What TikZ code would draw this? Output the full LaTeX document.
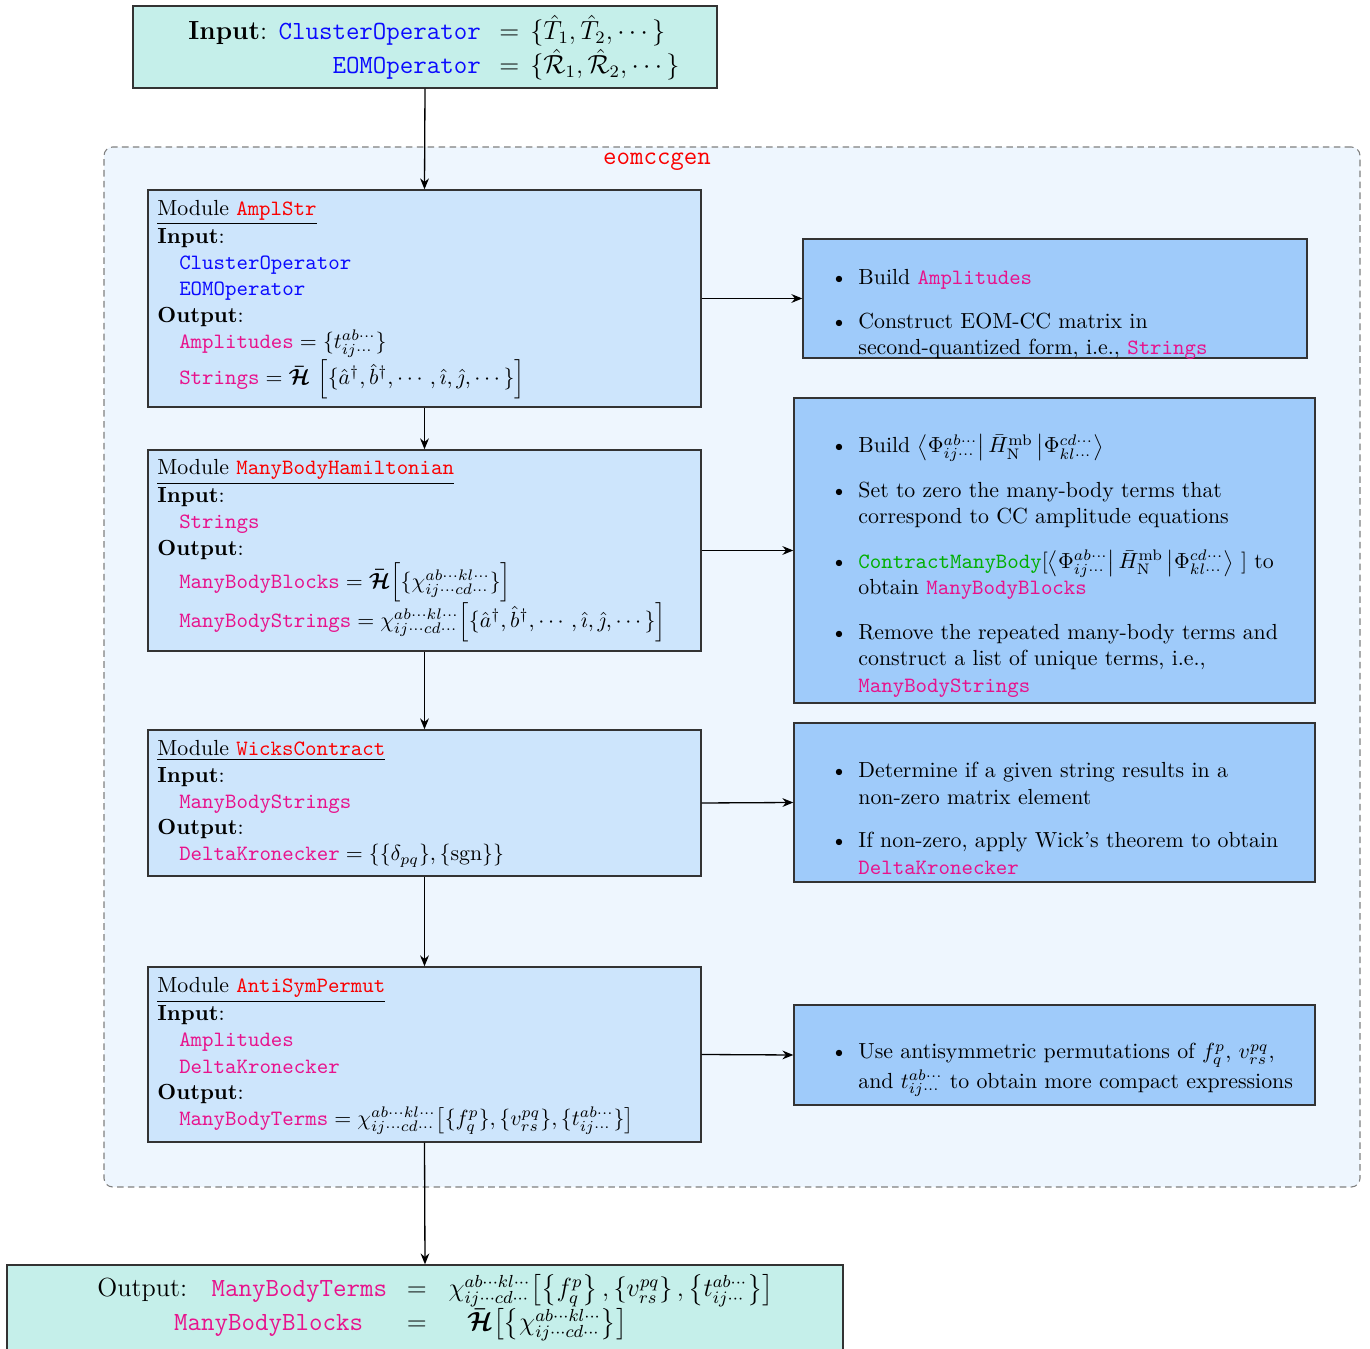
\documentclass[tikz,border=0pt]{standalone}
\usepackage{amsmath,bm}
\usetikzlibrary{fit,arrows.meta}
\definecolor{ioFill}{RGB}{197,239,234}
\definecolor{contFill}{RGB}{238,246,254}
\definecolor{modFill}{RGB}{205,229,252}
\definecolor{noteFill}{RGB}{159,203,250}
\definecolor{cBlue}{RGB}{10,10,255}
\definecolor{cMag}{RGB}{232,18,140}
\definecolor{cRed}{RGB}{250,0,0}
\definecolor{cGreen}{RGB}{0,175,0}
\definecolor{edgeGray}{RGB}{51,51,51}
\newcommand{\tblue}[1]{\texttt{\color{cBlue}#1}}
\newcommand{\tmag}[1]{\texttt{\color{cMag}#1}}
\newcommand{\tred}[1]{\texttt{\color{cRed}#1}}
\newcommand{\tgreen}[1]{\texttt{\color{cGreen}#1}}
\newcommand{\HHbar}{\bm{\bar{\mathcal{H}}}}
\newcommand{\modtitle}[1]{\underline{Module \tred{#1}}}
\newcommand{\chiup}{\chi^{ab\cdots kl\cdots}_{ij\cdots cd\cdots}}
\begin{document}
\begin{tikzpicture}[x=0.458pt,y=-0.458pt,
  boxbase/.style={draw=edgeGray, line width=0.6pt, inner sep=0pt},
  iobox/.style={boxbase, fill=ioFill},
  modbox/.style={boxbase, fill=modFill},
  notebox/.style={boxbase, fill=noteFill},
  container/.style={draw=gray, dash pattern=on 3pt off 2pt, rounded corners=4pt, fill=contFill, inner sep=0pt, line width=0.5pt},
  arr/.style={-{Stealth[length=5pt,width=4pt]}, line width=0.6pt},
  txt/.style={inner sep=0pt, anchor=base west},
]
\useasboundingbox (0,0) rectangle (1370,1349);

% container
\node[container, fit={(104,147) (1360,1187)}] (cont) {};
\node[anchor=base, inner sep=0pt, font=\large\ttfamily, text=cRed] (contlabel) at (657,165) {eomccgen};

% input box
\node[iobox, fit={(133,6) (717,88)}] (inbox) {};
\node[txt, font=\large] (intext) at (188,40) {%
  \begin{tabular}[t]{@{}r@{\hspace{8.5pt}}c@{\hspace{5pt}}l@{}}
  \textbf{Input}: \tblue{ClusterOperator} & $=$ & $\{\hat{T}_1,\hat{T}_2,\cdots\}$\\
  \tblue{EOMOperator} & $=$ & $\{\hat{\mathcal{R}}_1,\hat{\mathcal{R}}_2,\cdots\}$
  \end{tabular}};

% output box
\node[iobox, fit={(7,1265) (843,1362)}] (outbox) {};
\node[txt, font=\large] (outtext) at (97,1297) {%
  \begin{tabular}[t]{@{}r@{\hspace{9pt}}c@{\hspace{10pt}}l@{}}
  Output:\hspace{6pt} \tmag{ManyBodyTerms} & $=$ & $\chiup\!\left[\left\{f^p_q\right\},\left\{v^{pq}_{rs}\right\},\left\{t^{ab\cdots}_{ij\cdots}\right\}\right]$\\[1pt]
  \tmag{ManyBodyBlocks}\hspace{11pt} & $=$ & \hspace{8.5pt}$\HHbar\!\left[\left\{\chiup\right\}\right]$
  \end{tabular}};

% modules
\node[modbox, fit={(148,190) (701,407)}] (m1) {};
\node[txt] (m1txt) at (157,216) {%
  \begin{tabular}[t]{@{}l@{}}
  \modtitle{AmplStr}\\
  \textbf{Input}:\\
  \quad\tblue{ClusterOperator}\\
  \quad\tblue{EOMOperator}\\
  \textbf{Output}:\\
  \quad\tmag{Amplitudes}${}=\{t^{ab\cdots}_{ij\cdots}\}$\\[1.5pt]
  \quad\tmag{Strings}${}=\HHbar\,\left[\{\hat{a}^\dagger,\hat{b}^\dagger,\cdots,\hat{\imath},\hat{\jmath},\cdots\}\right]$
  \end{tabular}};

\node[modbox, fit={(148,450) (701,651)}] (m2) {};
\node[txt] (m2txt) at (157,475) {%
  \begin{tabular}[t]{@{}l@{}}
  \modtitle{ManyBodyHamiltonian}\\
  \textbf{Input}:\\
  \quad\tmag{Strings}\\
  \textbf{Output}:\\
  \quad\tmag{ManyBodyBlocks}${}=\HHbar\!\left[\{\chiup\}\right]$\\[1pt]
  \quad\tmag{ManyBodyStrings}${}=\chiup\!\left[\{\hat{a}^\dagger,\hat{b}^\dagger,\cdots,\hat{\imath},\hat{\jmath},\cdots\}\right]$
  \end{tabular}};

\node[modbox, fit={(148,730) (701,876)}] (m3) {};
\node[txt] (m3txt) at (157,756) {%
  \begin{tabular}[t]{@{}l@{}}
  \modtitle{WicksContract}\\
  \textbf{Input}:\\
  \quad\tmag{ManyBodyStrings}\\
  \textbf{Output}:\\
  \quad\tmag{DeltaKronecker}${}=\{\{\delta_{pq}\},\{\mathrm{sgn}\}\}$
  \end{tabular}};

\node[modbox, fit={(148,967) (701,1142)}] (m4) {};
\node[txt] (m4txt) at (157,993) {%
  \begin{tabular}[t]{@{}l@{}}
  \modtitle{AntiSymPermut}\\
  \textbf{Input}:\\
  \quad\tmag{Amplitudes}\\
  \quad\tmag{DeltaKronecker}\\
  \textbf{Output}:\\
  \quad\tmag{ManyBodyTerms}${}=\chiup\!\left[\{f^p_q\},\{v^{pq}_{rs}\},\{t^{ab\cdots}_{ij\cdots}\}\right]$
  \end{tabular}};

% notes
\node[notebox, fit={(803,239) (1307,358)}] (r1) {};
\node[txt] (r1txt) at (803.4,285) {%
  \begin{minipage}[t]{229.7pt}\raggedright
  \begin{itemize}
  \item Build \tmag{Amplitudes}
  \item Construct EOM-CC matrix in second-quantized form, i.e., \tmag{Strings}
  \end{itemize}
  \end{minipage}};

\node[notebox, fit={(794,398) (1315,703)}] (r2) {};
\node[txt] (r2txt) at (803.4,453) {%
  \begin{minipage}[t]{229.7pt}\raggedright
  \begin{itemize}\setlength{\itemsep}{4.5pt}
  \item Build $\left\langle\Phi^{ab\cdots}_{ij\cdots}\right|\bar{H}^{\mathrm{mb}}_{\mathrm{N}}\left|\Phi^{cd\cdots}_{kl\cdots}\right\rangle$
  \item Set to zero the many-body terms that correspond to CC amplitude equations
  \item \tgreen{ContractManyBody}$[\left\langle\Phi^{ab\cdots}_{ij\cdots}\right|\bar{H}^{\mathrm{mb}}_{\mathrm{N}}\left|\Phi^{cd\cdots}_{kl\cdots}\right\rangle\ ]$ to obtain \tmag{ManyBodyBlocks}
  \item Remove the repeated many-body terms and construct a list of unique terms, i.e., \tmag{ManyBodyStrings}
  \end{itemize}
  \end{minipage}};

\node[notebox, fit={(794,723) (1315,882)}] (r3) {};
\node[txt] (r3txt) at (803.4,778) {%
  \begin{minipage}[t]{229.7pt}\raggedright
  \begin{itemize}
  \item Determine if a given string results in a non-zero matrix element
  \item If non-zero, apply Wick's theorem to obtain \tmag{DeltaKronecker}
  \end{itemize}
  \end{minipage}};

\node[notebox, fit={(794,1005) (1315,1105)}] (r4) {};
\node[txt] (r4txt) at (803.4,1059) {%
  \begin{minipage}[t]{229.7pt}\raggedright
  \begin{itemize}
  \item Use antisymmetric permutations of $f^p_q$, $v^{pq}_{rs}$, and $t^{ab\cdots}_{ij\cdots}$ to obtain more compact expressions
  \end{itemize}
  \end{minipage}};

% connectors
\draw[arr] (inbox.south) -- (m1.north);
\draw[arr] (m1.south) -- (m2.north);
\draw[arr] (m2.south) -- (m3.north);
\draw[arr] (m3.south) -- (m4.north);
\draw[arr] (m4.south) -- (outbox.north);
\draw[arr] (m1.east) -- (r1.west);
\draw[arr] (m2.east) -- (r2.west);
\draw[arr] (m3.east) -- (r3.west);
\draw[arr] (m4.east) -- (r4.west);
\end{tikzpicture}
\end{document}
